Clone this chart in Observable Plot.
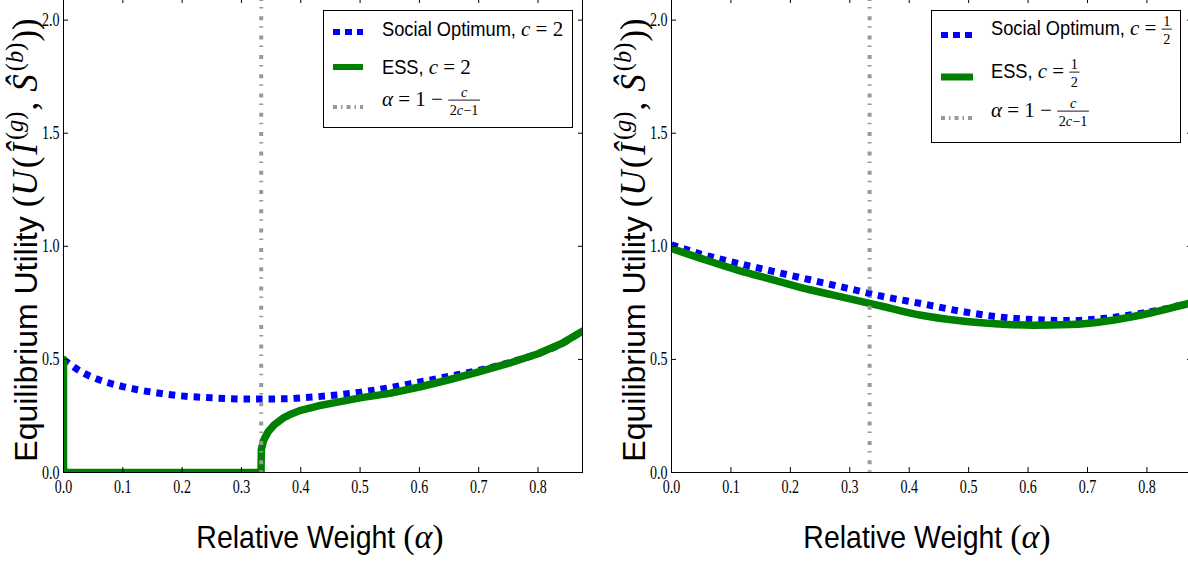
<!DOCTYPE html>
<html><head><meta charset="utf-8">
<script src="https://cdn.jsdelivr.net/npm/d3@7"></script>
<script src="https://cdn.jsdelivr.net/npm/@observablehq/plot@0.6"></script>
<style>
html,body{margin:0;padding:0;background:#fff;}
body{width:1188px;height:571px;overflow:hidden;position:relative;}
.panel{position:absolute;top:-3px;width:600px;height:505px;}
.panel svg{max-width:none !important;}
text{white-space:pre;}
</style></head>
<body>
<script>
// ---------- data ----------
const xTicks = [0, 0.1, 0.2, 0.3, 0.4, 0.5, 0.6, 0.7, 0.8];
const yTicks = [0, 0.5, 1.0, 1.5, 2.0];
const thresholdAlpha = [1 / 3];

// left panel, c = 2
const socialLeftAlpha = [0, 0.03, 0.06, 0.1, 0.125, 0.15, 0.19, 0.25, 0.31, 0.333, 0.375, 0.4, 0.45, 0.5, 0.55, 0.6, 0.65, 0.7, 0.75, 0.8, 0.84, 0.875];
const socialLeftU     = [0.5, 0.445, 0.41, 0.38, 0.366, 0.355, 0.341, 0.330, 0.325, 0.325, 0.326, 0.33, 0.34, 0.355, 0.375, 0.40, 0.425, 0.451, 0.485, 0.525, 0.57, 0.625];
const essLeftAlpha = [0, 0, 0.333, 0.3335, 0.337, 0.345, 0.355, 0.37, 0.385, 0.4, 0.43, 0.46, 0.5, 0.55, 0.6, 0.65, 0.7, 0.75, 0.8, 0.84, 0.875];
const essLeftU     = [0.5, 0, 0, 0.1, 0.14, 0.18, 0.21, 0.24, 0.26, 0.275, 0.295, 0.31, 0.33, 0.35, 0.378, 0.41, 0.445, 0.482, 0.525, 0.57, 0.625];

// right panel, c = 1/2
const socialRightAlpha = [0, 0.048, 0.11, 0.171, 0.233, 0.295, 0.356, 0.42, 0.482, 0.544, 0.608, 0.671, 0.733, 0.8, 0.867, 0.875];
const socialRightU     = [1.007, 0.967, 0.926, 0.889, 0.852, 0.815, 0.778, 0.747, 0.715, 0.690, 0.676, 0.672, 0.683, 0.708, 0.745, 0.750];
const essRightAlpha = [0, 0.048, 0.11, 0.171, 0.233, 0.295, 0.356, 0.42, 0.482, 0.544, 0.608, 0.671, 0.733, 0.8, 0.867, 0.875];
const essRightU     = [0.99, 0.948, 0.896, 0.852, 0.808, 0.771, 0.734, 0.695, 0.672, 0.658, 0.651, 0.654, 0.670, 0.702, 0.745, 0.750];

const rows = (xs, ys) => xs.map((a, i) => ({a, u: ys[i]}));

const BLUE = "#0000ff", GREEN = "#008000", GRAY = "#999999";
const SERIF = "'Liberation Serif', serif";
const SANS = "'Liberation Sans', sans-serif";

function panel(social, ess, left, width, ml, mr, essCurve) {
  const p = Plot.plot({
    width, height: 505, marginLeft: ml, marginRight: mr, marginTop: 0, marginBottom: 30,
    x: {domain: [0, 0.875], axis: null, label: null},
    y: {domain: [0, 2.1], axis: null, label: null},
    style: {fontFamily: SERIF, fontSize: "19px", background: "transparent", overflow: "visible"},
    marks: [
      Plot.line(social, {x: "a", y: "u", stroke: BLUE, strokeWidth: 7, strokeDasharray: "6.5,6", strokeLinecap: "butt", strokeLinejoin: "miter", curve: "monotone-x", clip: true}),
      Plot.line(ess, {x: "a", y: "u", stroke: GREEN, strokeWidth: 7.5, curve: essCurve, clip: true}),
      Plot.ruleX(thresholdAlpha, {stroke: GRAY, strokeWidth: 4, strokeDasharray: "4,6,1.5,7.8", strokeLinecap: "butt"}),
      Plot.frame({stroke: "black", strokeWidth: 1}),
      Plot.axisX({ticks: xTicks, anchor: "bottom", tickSize: 5, dy: -5, tickFormat: () => "", label: null}),
      Plot.axisX({ticks: xTicks, anchor: "top", tickSize: 5, dy: 5, tickFormat: () => "", label: null}),
      Plot.axisY({ticks: yTicks, anchor: "left", tickSize: 5, dx: 5, tickFormat: () => "", label: null}),
      Plot.axisY({ticks: yTicks, anchor: "right", tickSize: 5, dx: -5, tickFormat: () => "", label: null}),
      Plot.axisX({ticks: xTicks, anchor: "bottom", tickSize: 0, tickPadding: 7, tickFormat: d3.format(".1f"), label: null, fontSize: 19}),
      Plot.axisY({ticks: yTicks, anchor: "left", tickSize: 0, tickPadding: 4, tickFormat: d3.format(".1f"), label: null, fontSize: 19})
    ]
  });
  // narrow the tick labels like the reference's condensed rendering
  p.querySelectorAll('g[aria-label$="tick label"] text').forEach(t => {
    t.setAttribute("transform", (t.getAttribute("transform") || "") + " scale(0.74,1)");
  });
  const div = document.createElement("div");
  div.className = "panel";
  div.style.left = left + "px";
  div.appendChild(p);
  document.body.appendChild(div);
}

panel(rows(socialLeftAlpha, socialLeftU), rows(essLeftAlpha, essLeftU), 0, 600, 63, 18, "linear");
panel(rows(socialRightAlpha, socialRightU), rows(essRightAlpha, essRightU), 600, 600, 71, 9, "monotone-x");

// ---------- overlay: legends & axis titles ----------
const ov = d3.select("body").append("svg")
  .attr("width", 1188).attr("height", 571)
  .style("position", "absolute").style("left", 0).style("top", 0);

function layout(g, parts, fs, sansSx) {
  let x = 0;
  for (const p of parts) {
    if (p.gap) { x += p.gap; continue; }
    if (p.frac) {
      const s = fs * 0.68;
      const n = g.append("text").attr("font-family", SERIF).attr("font-size", s).attr("font-style", p.fi ? "italic" : "normal").attr("text-anchor", "middle").text(p.frac[0]);
      const d = g.append("text").attr("font-family", SERIF).attr("font-size", s).attr("font-style", "normal").attr("text-anchor", "middle");
      p.frac[1].forEach(q => d.append("tspan").attr("font-style", q.i ? "italic" : "normal").text(q.t));
      const w = Math.max(n.node().getComputedTextLength(), d.node().getComputedTextLength()) + 3;
      n.attr("x", x + w / 2).attr("y", -fs * 0.42);
      d.attr("x", x + w / 2).attr("y", fs * 0.44);
      g.append("line").attr("x1", x).attr("x2", x + w).attr("y1", -fs * 0.28).attr("y2", -fs * 0.28).attr("stroke", "#000").attr("stroke-width", 0.9);
      x += w + 1;
    } else {
      const sz = (p.sup ? 0.7 : 1) * (p.fs || fs);
      const sx = p.f === "sans" ? sansSx : 1;
      const y = p.sup ? -fs * 0.45 : 0;
      const t = g.append("text")
        .attr("transform", `translate(${x},${y}) scale(${sx},1)`)
        .attr("font-family", p.f === "sans" ? SANS : SERIF)
        .attr("font-style", p.i ? "italic" : "normal")
        .attr("font-size", sz).attr("fill", "#000").text(p.t);
      x += t.node().getComputedTextLength() * sx;
    }
  }
  return x;
}

function legend(bx, by, bw, bh, sx0, sx1, textX, rows) {
  ov.append("rect").attr("x", bx + 0.5).attr("y", by + 0.5).attr("width", bw).attr("height", bh)
    .attr("fill", "#fff").attr("stroke", "#000").attr("stroke-width", 1);
  for (const r of rows) {
    ov.append("line").attr("x1", sx0).attr("x2", sx1).attr("y1", r.ly).attr("y2", r.ly)
      .attr("stroke", r.color).attr("stroke-width", r.w).attr("stroke-dasharray", r.dash || null);
    const g = ov.append("g").attr("transform", `translate(${textX},${r.ty})`);
    layout(g, r.parts, 21, 0.87);
  }
}

const alphaParts = [
  {t: "α", i: true}, {t: " = 1 − "},
  {frac: ["c", [{t: "2"}, {t: "c", i: true}, {t: "−1"}]], fi: true}
];

legend(323, 10, 249, 117, 333, 363, 382, [
  {ly: 32, color: BLUE, w: 6, dash: "7,5", ty: 36, parts: [{t: "Social Optimum, ", f: "sans"}, {t: "c", i: true}, {t: " = 2"}]},
  {ly: 67, color: GREEN, w: 6, ty: 74, parts: [{t: "ESS, ", f: "sans"}, {t: "c", i: true}, {t: " = 2"}]},
  {ly: 107, color: GRAY, w: 4, dash: "4,4,1.5,4", ty: 106, parts: alphaParts}
]);

legend(931, 10, 249, 132, 941, 973, 991, [
  {ly: 35, color: BLUE, w: 6, dash: "7,5", ty: 35, parts: [{t: "Social Optimum, ", f: "sans"}, {t: "c", i: true}, {t: " = "}, {frac: ["1", [{t: "2"}]]}]},
  {ly: 77, color: GREEN, w: 7, ty: 78, parts: [{t: "ESS, ", f: "sans"}, {t: "c", i: true}, {t: " = "}, {frac: ["1", [{t: "2"}]]}]},
  {ly: 118, color: GRAY, w: 4, dash: "4,4,1.5,4", ty: 117, parts: alphaParts}
]);

function xTitle(cx) {
  const g = ov.append("g");
  const w = layout(g, [{t: "Relative Weight ", f: "sans"}, {t: "(", fs: 34}, {t: "α", i: true, fs: 34}, {t: ")", fs: 34}], 32, 0.89);
  g.attr("transform", `translate(${cx - w / 2},548)`);
}
function yTitle(bx, cy) {
  const outer = ov.append("g").attr("transform", `translate(${bx},${cy}) rotate(-90)`);
  const g = outer.append("g");
  const M = 35;
  const w = layout(g, [
    {t: "Equilibrium Utility", f: "sans"}, {gap: 9}, {t: "(", fs: M}, {t: "U", i: true, fs: M}, {gap: 2}, {t: "(", fs: M}, {gap: 2}, {t: "Î", i: true, fs: M},
    {gap: 3}, {t: "(", sup: true, fs: M}, {t: "g", i: true, sup: true, fs: M}, {t: ")", sup: true, fs: M}, {gap: 1}, {t: ",", fs: M}, {gap: 10},
    {t: "Ŝ", i: true, fs: M}, {gap: 3}, {t: "(", sup: true, fs: M}, {t: "b", i: true, sup: true, fs: M}, {t: ")", sup: true, fs: M}, {gap: 1}, {t: ")", fs: M}, {t: ")", fs: M}
  ], 32, 1.0);
  g.attr("transform", `translate(${-w / 2},0)`);
}
xTitle(320);
xTitle(927);
yTitle(37, 240);
yTitle(645, 240);
</script>
</body></html>
